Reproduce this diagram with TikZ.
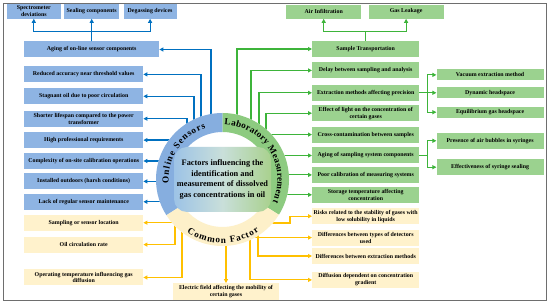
\documentclass[tikz,border=0pt]{standalone}
\usepackage{fontspec}
\setmainfont{Liberation Serif}
\usepackage{xcolor}
\usepackage{tikz}
\usetikzlibrary{arrows.meta,positioning,calc,decorations.text}

\definecolor{bluebox}{HTML}{8EB4E3}
\definecolor{blueline}{HTML}{0070C0}
\definecolor{ringblue}{HTML}{86AEDF}
\definecolor{greenbox}{HTML}{9BD28F}
\definecolor{greenline}{HTML}{3DB43A}
\definecolor{ringgreen}{HTML}{8DCB80}
\definecolor{creambox}{HTML}{FFF2CC}
\definecolor{creamline}{HTML}{FFC000}
\definecolor{ringcream}{HTML}{FDF0C9}
\definecolor{coreblue}{HTML}{9DC3E6}
\definecolor{coregreen}{HTML}{A9D18E}
\definecolor{coremid}{HTML}{C9DFDA}
\definecolor{framegray}{HTML}{6E6E6E}

\newcommand{\ringfont}{\fontsize{9.2}{11}\selectfont\bfseries}

\begin{document}
\begin{tikzpicture}[
  x=1pt, y=1pt,
  box/.style   = {rectangle, align=center, inner sep=1pt, minimum height=16pt,
                  font=\fontsize{5.9}{6.8}\selectfont\bfseries},
  bbox/.style  = {box, fill=bluebox, minimum width=119pt},
  btop/.style  = {box, fill=bluebox, minimum height=15pt},
  gbox/.style  = {box, fill=greenbox, minimum width=107pt},
  gtop/.style  = {box, fill=greenbox, minimum width=75pt, minimum height=14pt},
  gsub/.style  = {gbox, minimum height=11pt},
  cbox/.style  = {box, fill=creambox, minimum width=119pt},
  crbox/.style = {box, fill=creambox, minimum width=107pt},
  core/.style  = {rectangle, rounded corners=13pt, minimum width=97pt,
                  minimum height=65pt, inner sep=0pt, align=center,
                  left color=coreblue, right color=coregreen, middle color=coremid,
                  font=\fontsize{8.3}{10.4}\selectfont\bfseries},
  tip/.style   = {-{Triangle[length=4pt,width=4pt]}, line width=1.2pt},
  bline/.style = {tip, draw=blueline},
  gline/.style = {tip, draw=greenline},
  cline/.style = {tip, draw=creamline},
  ringtext/.style = {decorate, decoration={text along path, text align={fit to path}}},
]
\useasboundingbox (0,0) rectangle (550,305);

%% --- online sensors (blue, left) ---
\node[bbox, minimum width=135pt, anchor=west] (aging) at (24,255.5)
  {Aging of on-line sensor components};
\node[bbox, below right=8.5pt and 0pt of aging.south west] (reduc)
  {Reduced accuracy near threshold values};
\node[bbox, below=5.5pt of reduc] (stag)  {Stagnant oil due to poor circulation};
\node[bbox, below=6pt of stag]    (life)  {Shorter lifespan compared to the power\\transformer};
\node[bbox, below=5pt of life]    (prof)  {High professional requirements};
\node[bbox, below=4.5pt of prof]  (calib) {Complexity of on-site calibration operations};
\node[bbox, below=4pt of calib]   (outd)  {Installed outdoors (harsh conditions)};
\node[bbox, below=4pt of outd]    (maint) {Lack of regular sensor maintenance};

\node[btop, minimum width=55pt, above=22.5pt of aging] (seal) {Sealing components};
\node[btop, minimum width=54pt, left=3pt of seal]      (spec) {Spectrometer\\deviations};
\node[btop, minimum width=53pt, right=4pt of seal]     (degas) {Degassing devices};

%% --- common factor (cream, left and bottom) ---
\node[cbox, below=4.5pt of maint] (loc)  {Sampling or sensor location};
\node[cbox, below=5.5pt of loc]   (circ) {Oil circulation rate};
\node[cbox, below=16.5pt of circ] (temp) {Operating temperature influencing gas\\diffusion};
\node[cbox, minimum width=106pt, minimum height=17pt, anchor=south] (field) at (226,4.5)
  {Electric field affecting the mobility of\\certain gases};

%% --- laboratory measurement (green, right) ---
\node[gbox, anchor=west] (transp) at (312,256) {Sample Transportation};
\node[gtop, above=22pt of transp, xshift=-42pt] (air)  {Air Infiltration};
\node[gtop, right=7pt of air]                    (leak) {Gas Leakage};
\node[gbox, below=5pt of transp]  (delay) {Delay between sampling and analysis};
\node[gbox, below=6pt of delay]   (extr)  {Extraction methods affecting precision};
\node[gbox, below=4pt of extr]    (light) {Effect of light on the concentration of\\certain gases};
\node[gbox, below=5pt of light]   (cross) {Cross-contamination between samples};
\node[gbox, below=4.5pt of cross] (sagi)  {Aging of sampling system components};
\node[gbox, below=3pt of sagi]    (poor)  {Poor calibration of measuring systems};
\node[gbox, below=3.5pt of poor]  (store) {Storage temperature affecting\\concentration};

\node[gsub, right=17pt of extr] (dyn)  {Dynamic headspace};
\node[gsub, above=6.5pt of dyn] (vac)  {Vacuum extraction method};
\node[gsub, below=8pt of dyn]   (equi) {Equilibrium gas headspace};
\node[gbox, above right=6.5pt and 17pt of sagi.east] (bubb)  {Presence of air bubbles in syringes};
\node[gbox, below right=3.5pt and 17pt of sagi.east] (seals) {Effectiveness of syringe sealing};

%% --- common factor (cream, right) ---
\node[crbox, below=5pt of store] (risk)  {Risks related to the stability of gases with\\low solubility in liquids};
\node[crbox, below=5pt of risk]  (detec) {Differences between types of detectors\\used};
\node[crbox, below=2pt of detec] (dext)  {Differences between extraction methods};
\node[crbox, below=7.5pt of dext] (grad) {Diffusion dependent on concentration\\gradient};

%% --- arrows ---
\coordinate (hc) at (222.5,125.5);

\draw[bline] (aging.north) -- ++(0,9.5) -| (spec.south);
\draw[bline] (aging.north) -- (seal.south);
\draw[bline] (aging.north) -- ++(0,9.5) -| (degas.south);
\draw[bline] ([xshift=-11.5pt]hc) |- (aging.east);
\draw[bline] ([xshift=-21.5pt]hc) |- (reduc.east);
\draw[bline] ([xshift=-28.5pt]hc) |- (stag.east);
\draw[bline] ([xshift=-35.5pt]hc) |- (life.east);
\draw[bline] (hc |- prof.east)  -- (prof.east);
\draw[bline] (hc |- calib.east) -- (calib.east);
\draw[bline] (hc |- outd.east)  -- (outd.east);
\draw[bline] (hc |- maint.east) -- (maint.east);

\draw[gline] (transp.north) -- ++(0,9) -| (air.south);
\draw[gline] (transp.north) -- ++(0,9) -| (leak.south);
\draw[gline] ([xshift=14.5pt]hc) |- (transp.west);
\draw[gline] ([xshift=28.5pt]hc) |- (delay.west);
\draw[gline] ([xshift=36.5pt]hc) |- (extr.west);
\draw[gline] ([xshift=43.5pt]hc) |- (light.west);
\draw[gline] (hc |- cross.west) -- (cross.west);
\draw[gline] (hc |- sagi.west)  -- (sagi.west);
\draw[gline] (hc |- poor.west)  -- (poor.west);
\draw[gline] (hc |- store.west) -- (store.west);
\draw[gline] (extr.east) -- ++(8,0) |- (vac.west);
\draw[gline] (extr.east) -- (dyn.west);
\draw[gline] (extr.east) -- ++(8,0) |- (equi.west);
\draw[gline] (sagi.east) -- ++(8,0) |- (bubb.west);
\draw[gline] (sagi.east) -- ++(8,0) |- (seals.west);

\draw[cline] (hc |- loc.east) -- (loc.east);
\draw[cline] ([xshift=-47.5pt]hc) |- (circ.east);
\draw[cline] ([xshift=-40.5pt]hc) |- (temp.east);
\draw[cline] (hc -| field.north) -- (field.north);
\draw[cline] ([yshift=-43.5pt]hc) -- ++(67.5,0) |- (risk.west);
\draw[cline] (hc |- detec.west) -- (detec.west);
\draw[cline] ([xshift=35.5pt]hc) |- (dext.west);
\draw[cline] ([xshift=27.5pt]hc) |- (grad.west);

%% --- central hub ---
\node[circle, fill=white, minimum size=133pt, inner sep=0pt] (hub) at (hc) {};
\fill[ringblue] ($(hc)+(90:66.5pt)$) arc[start angle=90, end angle=212.5, radius=66.5pt]
  -- ($(hc)+(212.5:47.5pt)$) arc[start angle=212.5, end angle=90, radius=47.5pt] -- cycle;
\fill[ringgreen] ($(hc)+(-32:66.5pt)$) arc[start angle=-32, end angle=90, radius=66.5pt]
  -- ($(hc)+(90:47.5pt)$) arc[start angle=90, end angle=-32, radius=47.5pt] -- cycle;
\fill[ringcream] ($(hc)+(212.5:66.5pt)$) arc[start angle=212.5, end angle=328, radius=66.5pt]
  -- ($(hc)+(328:47.5pt)$) arc[start angle=328, end angle=212.5, radius=47.5pt] -- cycle;

\node[core] (core) at (hc)
  {Factors influencing the\\identification and\\measurement of dissolved\\gas concentrations in oil};

\path[ringtext, decoration={text={|\ringfont|Online Sensors}}]
  ($(hc)+(184:54pt)$) arc[start angle=184, end angle=108, radius=54pt];
\path[ringtext, decoration={text={|\ringfont|Laboratory Measurement}}]
  ($(hc)+(88:55pt)$) arc[start angle=88, end angle=-24, radius=55pt];
\path[ringtext, decoration={text={|\ringfont|Common Factor}}]
  ($(hc)+(236:63.5pt)$) arc[start angle=236, end angle=305, radius=63.5pt];

%% --- frame ---
\draw[framegray, line width=1pt] (3.3,4.5) rectangle (546.8,301.7);
\end{tikzpicture}
\end{document}
